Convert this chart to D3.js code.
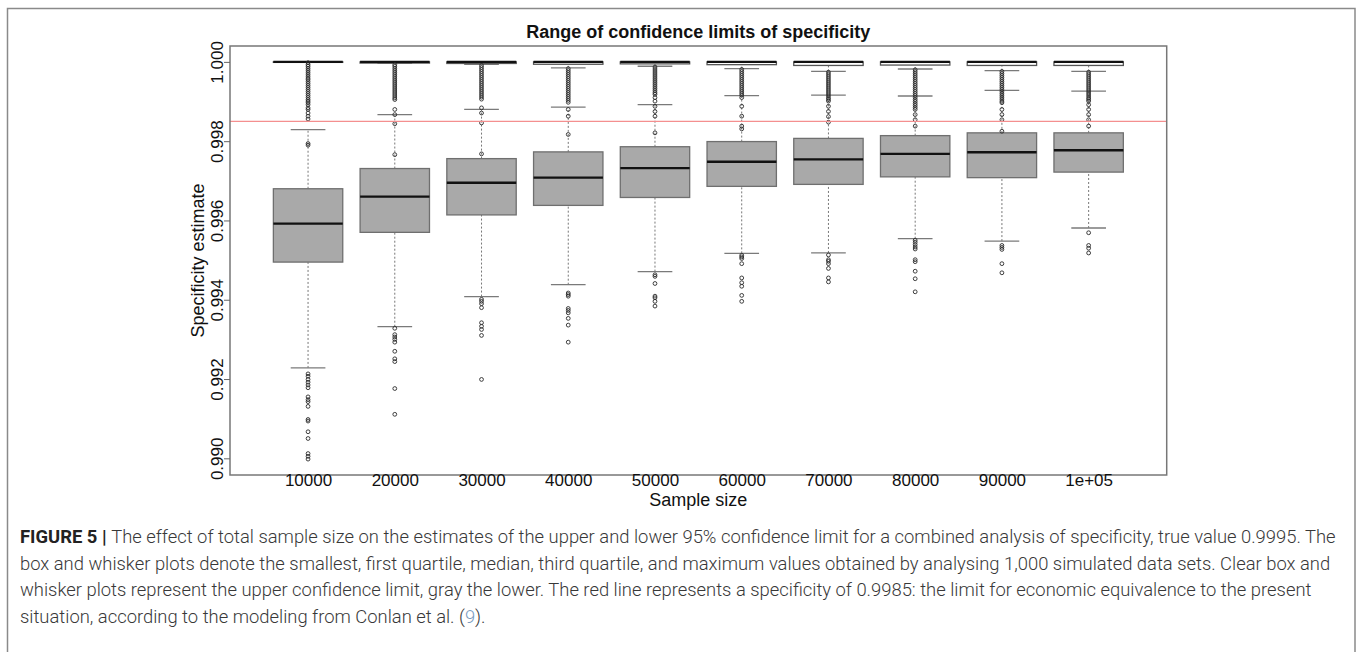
<!DOCTYPE html>
<html>
<head>
<meta charset="utf-8">
<script src="https://cdn.jsdelivr.net/npm/d3@7"></script>
<style>
  body { margin: 0; background: #fff; }
  svg { display: block; }
</style>
</head>
<body>
<script>
// sample sizes on the x axis
var sampleSizes = ["10000", "20000", "30000", "40000", "50000", "60000", "70000", "80000", "90000", "1e+05"];

// lower confidence limit (gray boxes): [lower whisker, Q1, median, Q3, upper whisker]
var lowerStats = [
  [0.99228, 0.99495, 0.99592, 0.99680, 0.99829],
  [0.99332, 0.99570, 0.99660, 0.99731, 0.99867],
  [0.99408, 0.99614, 0.99695, 0.99756, 0.99880],
  [0.99438, 0.99638, 0.99708, 0.99773, 0.99886],
  [0.99471, 0.99658, 0.99732, 0.99786, 0.99892],
  [0.99517, 0.99686, 0.99748, 0.99799, 0.99915],
  [0.99518, 0.99691, 0.99754, 0.99807, 0.99916],
  [0.99554, 0.99710, 0.99768, 0.99814, 0.99914],
  [0.99548, 0.99708, 0.99772, 0.99821, 0.99928],
  [0.99581, 0.99722, 0.99777, 0.99821, 0.99926]
];
var lowerOutliers = [
  [0.99213, 0.99207, 0.99199, 0.99192, 0.99185, 0.99178, 0.99155, 0.99148, 0.99143, 0.99131, 0.99098, 0.99094, 0.99067, 0.99050, 0.99012, 0.99005, 0.98998],
  [0.99328, 0.99312, 0.99306, 0.99300, 0.99293, 0.99270, 0.99251, 0.99244, 0.99176, 0.99111],
  [0.99401, 0.99396, 0.99390, 0.99380, 0.99342, 0.99333, 0.99325, 0.99310, 0.99199],
  [0.99417, 0.99413, 0.99409, 0.99378, 0.99373, 0.99367, 0.99353, 0.99336, 0.99293],
  [0.99463, 0.99459, 0.99441, 0.99409, 0.99405, 0.99396, 0.99384],
  [0.99512, 0.99508, 0.99504, 0.99491, 0.99455, 0.99443, 0.99434, 0.99411, 0.99396],
  [0.99513, 0.99501, 0.99497, 0.99491, 0.99479, 0.99455, 0.99445],
  [0.99550, 0.99545, 0.99539, 0.99533, 0.99528, 0.99501, 0.99496, 0.99472, 0.99453, 0.99420],
  [0.99537, 0.99532, 0.99527, 0.99491, 0.99468],
  [0.99569, 0.99537, 0.99530, 0.99518]
];

// upper confidence limit (clear boxes)
var upperStats = [
  [1.00000, 1.00000, 1.00000, 1.00000, 1.00000],
  [0.99996, 0.99997, 1.00000, 1.00000, 1.00000],
  [0.99994, 0.99996, 1.00000, 1.00000, 1.00000],
  [0.99985, 0.99994, 1.00000, 1.00000, 1.00000],
  [0.99989, 0.99995, 1.00000, 1.00000, 1.00000],
  [0.99983, 0.99993, 1.00000, 1.00000, 1.00000],
  [0.99976, 0.99991, 1.00000, 1.00000, 1.00000],
  [0.99982, 0.99992, 1.00000, 1.00000, 1.00000],
  [0.99978, 0.99991, 1.00000, 1.00000, 1.00000],
  [0.99976, 0.99991, 1.00000, 1.00000, 1.00000]
];
var upperOutliers = [
  [0.99998, 0.99993, 0.99989, 0.99984, 0.99979, 0.99974, 0.99969, 0.99964, 0.99959, 0.99955, 0.99950, 0.99945, 0.99940, 0.99935, 0.99930, 0.99925, 0.99920, 0.99915, 0.99910, 0.99905, 0.99901, 0.99897, 0.99892, 0.99884, 0.99880, 0.99871, 0.99863, 0.99856, 0.99794, 0.99790],
  [0.99993, 0.99989, 0.99984, 0.99979, 0.99974, 0.99969, 0.99964, 0.99959, 0.99954, 0.99949, 0.99944, 0.99939, 0.99934, 0.99929, 0.99924, 0.99919, 0.99914, 0.99909, 0.99905, 0.99880, 0.99867, 0.99844, 0.99766],
  [0.99991, 0.99986, 0.99981, 0.99976, 0.99971, 0.99966, 0.99961, 0.99956, 0.99951, 0.99946, 0.99941, 0.99936, 0.99931, 0.99926, 0.99921, 0.99916, 0.99911, 0.99906, 0.99884, 0.99871, 0.99846, 0.99768],
  [0.99983, 0.99978, 0.99973, 0.99968, 0.99963, 0.99958, 0.99953, 0.99948, 0.99943, 0.99938, 0.99933, 0.99928, 0.99923, 0.99918, 0.99913, 0.99908, 0.99903, 0.99898, 0.99880, 0.99863, 0.99817],
  [0.99987, 0.99982, 0.99977, 0.99972, 0.99967, 0.99962, 0.99957, 0.99952, 0.99947, 0.99942, 0.99937, 0.99932, 0.99927, 0.99922, 0.99918, 0.99910, 0.99901, 0.99888, 0.99875, 0.99863, 0.99821],
  [0.99981, 0.99976, 0.99971, 0.99966, 0.99961, 0.99956, 0.99951, 0.99946, 0.99941, 0.99936, 0.99931, 0.99926, 0.99921, 0.99916, 0.99910, 0.99888, 0.99863, 0.99838, 0.99831],
  [0.99974, 0.99969, 0.99964, 0.99959, 0.99954, 0.99949, 0.99944, 0.99939, 0.99934, 0.99929, 0.99924, 0.99919, 0.99914, 0.99909, 0.99905, 0.99901, 0.99888, 0.99875, 0.99862, 0.99848],
  [0.99980, 0.99975, 0.99970, 0.99965, 0.99960, 0.99955, 0.99950, 0.99945, 0.99940, 0.99935, 0.99930, 0.99925, 0.99920, 0.99915, 0.99910, 0.99905, 0.99900, 0.99895, 0.99890, 0.99885, 0.99880, 0.99867, 0.99854, 0.99838],
  [0.99976, 0.99971, 0.99966, 0.99961, 0.99956, 0.99951, 0.99946, 0.99941, 0.99936, 0.99931, 0.99926, 0.99921, 0.99916, 0.99911, 0.99906, 0.99901, 0.99897, 0.99880, 0.99867, 0.99854, 0.99825],
  [0.99974, 0.99969, 0.99964, 0.99959, 0.99954, 0.99949, 0.99944, 0.99939, 0.99934, 0.99929, 0.99924, 0.99919, 0.99914, 0.99909, 0.99905, 0.99901, 0.99892, 0.99880, 0.99867, 0.99854, 0.99838]
];

var yTicks = [0.990, 0.992, 0.994, 0.996, 0.998, 1.000];
var refValue = 0.9985;

var chartTitle = "Range of confidence limits of specificity";
var xTitle = "Sample size";
var yTitle = "Specificity estimate";

var width = 1358, height = 652;
var plot = { left: 230, right: 1166.7, top: 46, bottom: 475 };
var font = "'Liberation Sans', Arial, Helvetica, sans-serif";

var svg = d3.select("body").append("svg").attr("width", width).attr("height", height);

// outer figure frame
svg.append("rect").attr("x", 7.5).attr("y", 8.5).attr("width", 1347.5).attr("height", 700)
  .attr("fill", "none").attr("stroke", "#8a8a8a").attr("stroke-width", 1.5);

// scales, padded 4% like R
var allVals = d3.merge([d3.merge(lowerStats), d3.merge(lowerOutliers), d3.merge(upperStats), d3.merge(upperOutliers)]);
var yMin = d3.min(allVals), yMax = d3.max(allVals);
var yPad = (yMax - yMin) * 0.04;
var y = d3.scaleLinear().domain([yMin - yPad, yMax + yPad]).range([plot.bottom, plot.top]);
var xPad = (sampleSizes.length) * 0.04;
var x = d3.scaleLinear().domain([0.5 - xPad, sampleSizes.length + 0.5 + xPad]).range([plot.left, plot.right]);
var unit = x(2) - x(1);
var boxW = unit * 0.8;

// title
svg.append("text").attr("x", (plot.left + plot.right) / 2).attr("y", 38)
  .attr("text-anchor", "middle").attr("font-family", font).attr("font-weight", "bold")
  .attr("font-size", 18).attr("fill", "#111").text(chartTitle);

function drawBoxes(stats, outliers, fill, border) {
  var g = svg.append("g");
  stats.forEach(function(s, i) {
    var cx = x(i + 1);
    // whiskers
    g.append("line").attr("x1", cx).attr("x2", cx).attr("y1", y(s[0])).attr("y2", y(s[1]))
      .attr("stroke", "#777").attr("stroke-width", 1).attr("stroke-dasharray", "2,2");
    g.append("line").attr("x1", cx).attr("x2", cx).attr("y1", y(s[3])).attr("y2", y(s[4]))
      .attr("stroke", "#777").attr("stroke-width", 1).attr("stroke-dasharray", "2,2");
    // caps
    [s[0], s[4]].forEach(function(v) {
      g.append("line").attr("x1", cx - boxW / 4).attr("x2", cx + boxW / 4).attr("y1", y(v)).attr("y2", y(v))
        .attr("stroke", "#7a7a7a").attr("stroke-width", 1.3);
    });
    // box
    g.append("rect").attr("x", cx - boxW / 2).attr("y", y(s[3])).attr("width", boxW)
      .attr("height", Math.max(y(s[1]) - y(s[3]), 0.5))
      .attr("fill", fill).attr("stroke", border).attr("stroke-width", 1.3);
    // median
    g.append("line").attr("x1", cx - boxW / 2).attr("x2", cx + boxW / 2).attr("y1", y(s[2])).attr("y2", y(s[2]))
      .attr("stroke", "#111").attr("stroke-width", 2.4);
    // outliers
    g.selectAll(null).data(outliers[i]).enter().append("circle")
      .attr("cx", cx).attr("cy", function(d) { return y(d); }).attr("r", 1.9)
      .attr("fill", "none").attr("stroke", "#2a2a2a").attr("stroke-width", 0.9);
  });
}

drawBoxes(lowerStats, lowerOutliers, "#a9a9a9", "#6f6f6f");
drawBoxes(upperStats, upperOutliers, "#ffffff", "#555");

// reference line
svg.append("line").attr("x1", plot.left).attr("x2", plot.right).attr("y1", y(refValue)).attr("y2", y(refValue))
  .attr("stroke", "#f48f8f").attr("stroke-width", 1.2);

// plot frame
svg.append("rect").attr("x", plot.left).attr("y", plot.top).attr("width", plot.right - plot.left)
  .attr("height", plot.bottom - plot.top).attr("fill", "none").attr("stroke", "#777").attr("stroke-width", 1.5);

// y axis
var yAxis = svg.append("g").attr("transform", "translate(" + plot.left + ",0)")
  .call(d3.axisLeft(y).tickValues(yTicks).tickFormat(d3.format(".3f")).tickSize(6));
yAxis.select(".domain").remove();
yAxis.selectAll(".tick line").attr("stroke", "#666");
yAxis.selectAll(".tick text")
  .attr("x", null).attr("dy", null)
  .attr("transform", "translate(-7,0) rotate(-90)")
  .attr("text-anchor", "middle").attr("font-family", font).attr("font-size", 17).attr("fill", "#111");

// x axis labels
var xAxis = svg.append("g").attr("transform", "translate(0," + plot.bottom + ")")
  .call(d3.axisBottom(x).tickValues(d3.range(1, sampleSizes.length + 1))
    .tickFormat(function(d) { return sampleSizes[d - 1]; }).tickSize(0));
xAxis.select(".domain").remove();
xAxis.selectAll(".tick text").attr("y", 11).attr("dy", null)
  .attr("font-family", font).attr("font-size", 17).attr("fill", "#111");

// axis titles
svg.append("text").attr("x", (plot.left + plot.right) / 2).attr("y", 505.5)
  .attr("text-anchor", "middle").attr("font-family", font).attr("font-size", 18).attr("fill", "#111").text(xTitle);
svg.append("text").attr("transform", "translate(204," + ((plot.top + plot.bottom) / 2) + ") rotate(-90)")
  .attr("text-anchor", "middle").attr("font-family", font).attr("font-size", 18).attr("fill", "#111").text(yTitle);

// caption
var captionLines = [
  "The effect of total sample size on the estimates of the upper and lower 95% confidence limit for a combined analysis of specificity, true value 0.9995. The",
  "box and whisker plots denote the smallest, first quartile, median, third quartile, and maximum values obtained by analysing 1,000 simulated data sets. Clear box and",
  "whisker plots represent the upper confidence limit, gray the lower. The red line represents a specificity of 0.9985: the limit for economic equivalence to the present",
  "situation, according to the modeling from Conlan et al. ("
];
var capFont = "Roboto, 'Open Sans', 'Liberation Sans', sans-serif";
var cap = svg.append("g").attr("font-family", capFont).attr("font-size", 18.4).attr("fill", "#383838").attr("font-weight", 300);
captionLines.forEach(function(line, i) {
  var t = cap.append("text").attr("x", 20).attr("y", 543 + i * 26.7);
  if (i === 0) {
    t.append("tspan").attr("font-weight", "bold").attr("fill", "#222").text("FIGURE 5 | ");
  }
  t.append("tspan").text(line);
  if (i === 3) {
    t.append("tspan").attr("fill", "#7a9cc0").text("9");
    t.append("tspan").text(").");
  }
});
</script>
</body>
</html>
